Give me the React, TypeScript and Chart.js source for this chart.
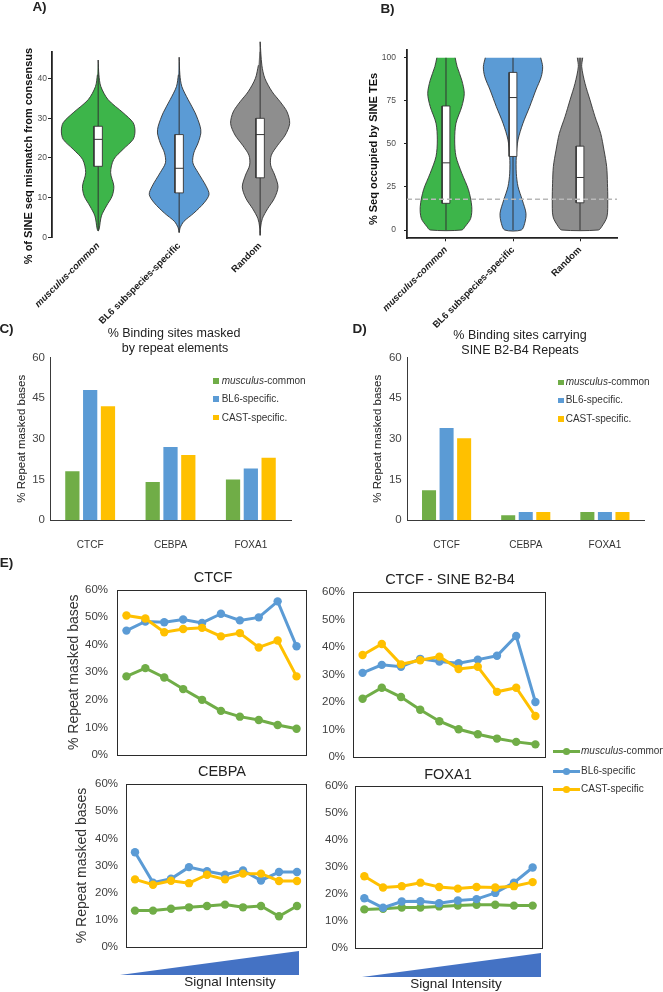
import React, { useEffect, useRef } from 'react';
import { Chart, registerables } from 'chart.js';

Chart.register(...registerables);

const FONT = '"Liberation Sans", Arial, Helvetica, sans-serif';
Chart.defaults.font.family = FONT;
Chart.defaults.color = '#333';

// ---------------- DATA ----------------
const VIOLIN_CATS = ['musculus-common', 'BL6 subspecies-specific', 'Random'];

// Panel A: % of SINE seq mismatch from consensus (value levels, relative density)
const A_MUS_Y = [44.7, 41, 38, 34.7, 31.4, 28.9, 26.8, 24.7, 22.2, 19.6, 16.3, 12.9, 10.4, 7.9, 5.4, 2.1, 1.6];
const A_MUS_D = [0, 0.02, 0.074, 0.274, 0.685, 0.96, 1.01, 0.96, 0.685, 0.425, 0.342, 0.43, 0.384, 0.227, 0.09, 0.027, 0];
const A_BL6_Y = [45.4, 41, 38, 34.7, 31.4, 28, 26.3, 23.8, 21.3, 18.8, 16.3, 12.9, 10.8, 8.7, 6.1, 4.0, 2.4, 1.2];
const A_BL6_D = [0, 0.02, 0.074, 0.247, 0.438, 0.575, 0.595, 0.52, 0.403, 0.375, 0.52, 0.74, 0.82, 0.685, 0.403, 0.129, 0.027, 0];
const A_RND_Y = [49.3, 43.4, 40.1, 36.7, 34.2, 31.6, 28.7, 25.8, 23.2, 20.7, 18.2, 15.7, 12.7, 9.8, 7.2, 4.7, 2.6, 0.5];
const A_RND_D = [0, 0.047, 0.129, 0.329, 0.548, 0.74, 0.81, 0.69, 0.48, 0.307, 0.288, 0.4, 0.49, 0.39, 0.205, 0.06, 0.014, 0];
const A_Q1 = [17.9, 11.2, 15.0];
const A_MED = [24.7, 17.4, 25.9];
const A_Q3 = [28.0, 25.9, 30.0];
const A_LO = [1.6, 1.2, 0.5];
const A_HI = [44.7, 45.4, 49.3];
const A_TICKS_MAX = 46.8;

// Panel B: % Seq occupied by SINE TEs
const B_MUS_Y = [100, 94.8, 87, 79.3, 71.6, 62, 52.3, 42.7, 33, 23.4, 13.7, 6.8, 1.9, 0];
const B_MUS_D = [0.305, 0.37, 0.523, 0.606, 0.523, 0.331, 0.288, 0.331, 0.523, 0.745, 0.854, 0.82, 0.63, 0.523];
const B_BL6_Y = [100, 94.8, 89, 81.3, 71.6, 62, 52.3, 42.7, 33, 25.2, 17.4, 9.7, 3.9, 0];
const B_BL6_D = [0.92, 0.983, 0.937, 0.76, 0.553, 0.331, 0.166, 0.109, 0.109, 0.166, 0.308, 0.43, 0.387, 0.275];
const B_RND_Y = [100, 94.8, 85.1, 75.5, 65.8, 56.1, 46.4, 36.8, 27.1, 17.4, 7.7, 1.9, 0];
const B_RND_D = [0.089, 0.056, 0.166, 0.331, 0.497, 0.685, 0.795, 0.884, 0.91, 0.92, 0.894, 0.718, 0.606];
const B_Q1 = [15.5, 42.7, 15.8];
const B_MED = [39, 76.9, 30.5];
const B_Q3 = [72, 91.5, 48.7];
const B_LO = [0, 0, 0];
const B_HI = [100, 100, 100];
const B_THRESHOLD = 17.8;

// Panels C, D
const TF_LABELS = ['CTCF', 'CEBPA', 'FOXA1'];
const BAR_SERIES = ['musculus-common', 'BL6-specific.', 'CAST-specific.'];
const C_MUS = [18, 14, 15];
const C_BL6 = [48, 27, 19];
const C_CAST = [42, 24, 23];
const D_MUS = [11, 1.8, 3];
const D_BL6 = [34, 3, 3];
const D_CAST = [30.2, 3, 3];

// Panel E
const LINE_SERIES = ['musculus-common', 'BL6-specific', 'CAST-specific'];
const BINS = ['1', '2', '3', '4', '5', '6', '7', '8', '9', '10'];
const E_CTCF_MUS = [28.5, 31.5, 28.1, 23.9, 20.0, 16.0, 13.9, 12.7, 10.9, 9.5];
const E_CTCF_BL6 = [45.1, 48.4, 48.1, 49.1, 47.9, 51.2, 48.8, 49.9, 55.7, 39.4];
const E_CTCF_CAST = [50.6, 49.5, 44.5, 45.7, 46.1, 43.0, 44.2, 39.0, 41.5, 28.5];
const E_SINE_MUS = [21.2, 25.2, 21.8, 17.2, 13.0, 10.1, 8.3, 6.7, 5.5, 4.6];
const E_SINE_BL6 = [30.6, 33.5, 32.8, 35.7, 34.7, 34.1, 35.4, 36.8, 44.0, 20.0];
const E_SINE_CAST = [37.1, 41.1, 33.7, 35.2, 36.5, 32.0, 32.8, 23.7, 25.2, 14.9];
const E_CEBPA_MUS = [13.4, 13.4, 14.1, 14.6, 15.1, 15.6, 14.6, 15.1, 11.3, 15.1];
const E_CEBPA_BL6 = [34.9, 23.7, 25.1, 29.4, 27.9, 26.6, 28.2, 24.5, 27.6, 27.6];
const E_CEBPA_CAST = [24.9, 22.9, 24.4, 23.5, 26.6, 24.9, 27.0, 27.0, 24.3, 24.3];
const E_FOXA1_MUS = [14.3, 14.5, 15.0, 15.0, 15.4, 15.7, 16.0, 16.0, 15.7, 15.7];
const E_FOXA1_BL6 = [18.4, 14.9, 17.2, 17.3, 16.6, 17.6, 18.1, 20.4, 24.2, 29.8];
const E_FOXA1_CAST = [26.6, 22.4, 22.9, 24.2, 22.6, 22.0, 22.6, 22.4, 22.9, 24.4];

// ---------------- STYLE ----------------
const SERIES_COLORS = ['#70AD47', '#5B9BD5', '#FFC000'];
const VIOLIN_COLORS = ['#3db54a', '#5b9bd5', '#8e8e8e'];
const OUTLINE = '#333333';

type Pad = { left: number; right: number; top: number; bottom: number };

const framePlugin = {
  id: 'frame',
  beforeDatasetsDraw(chart: any) {
    const { ctx, chartArea: a } = chart;
    ctx.save();
    ctx.strokeStyle = '#2b2b2b';
    ctx.lineWidth = 1;
    const l = Math.round(a.left) + 0.5, t = Math.round(a.top) + 0.5;
    const r = Math.round(a.right) + 0.5, b = Math.round(a.bottom) + 0.5;
    ctx.strokeRect(l, t, r - l, b - t);
    ctx.restore();
  },
};

function violinConfig(o: {
  profiles: { y: number[]; d: number[] }[];
  q1: number[]; med: number[]; q3: number[]; lo: number[]; hi: number[];
  yMin: number; yMax: number; step: number; xMin: number; xMax: number;
  boxHalf: number; threshold?: number; pad: Pad; yWidth: number; xHeight: number;
  tickLen: number; tickPad: number; xLine: boolean;
}) {
  const K = 0.45;
  const datasets: any[] = [];
  o.profiles.forEach((pr, i) => {
    const c = i + 1;
    const right = pr.y.map((v, j) => ({ x: c + pr.d[j] * K, y: v }));
    const left: { x: number; y: number }[] = [];
    for (let j = pr.y.length - 1; j >= 0; j--) if (pr.d[j] > 0) left.push({ x: c - pr.d[j] * K, y: pr.y[j] });
    datasets.push({
      data: [...right, ...left], showLine: true, fill: 'shape', backgroundColor: VIOLIN_COLORS[i],
      borderColor: OUTLINE, borderWidth: 0.9, pointRadius: 0, tension: 0.3, clip: false, order: 5,
    });
    datasets.push({
      data: [{ x: c, y: o.lo[i] }, { x: c, y: o.hi[i] }], showLine: true, fill: false,
      borderColor: OUTLINE, borderWidth: 1, pointRadius: 0, clip: false, order: 4,
    });
    const h = o.boxHalf;
    datasets.push({
      data: [
        { x: c - h, y: o.q1[i] }, { x: c + h, y: o.q1[i] }, { x: c + h, y: o.q3[i] },
        { x: c - h, y: o.q3[i] }, { x: c - h, y: o.q1[i] },
      ],
      showLine: true, fill: 'shape', backgroundColor: '#ffffff', borderColor: OUTLINE, borderWidth: 0.9,
      pointRadius: 0, tension: 0, order: 3,
    });
    datasets.push({
      data: [{ x: c - h, y: o.med[i] }, { x: c + h, y: o.med[i] }], showLine: true, fill: false,
      borderColor: OUTLINE, borderWidth: 1, pointRadius: 0, order: 2,
    });
  });
  if (o.threshold !== undefined) {
    datasets.push({
      data: [{ x: o.xMin, y: o.threshold }, { x: o.xMax, y: o.threshold }], showLine: true, fill: false,
      borderColor: '#b8b8b8', borderWidth: 1.5, borderDash: [5, 3], pointRadius: 0, order: 1,
    });
  }
  return {
    type: 'scatter',
    data: { datasets },
    options: {
      animation: false, responsive: false, events: [],
      layout: { padding: o.pad },
      plugins: { legend: { display: false }, tooltip: { enabled: false } },
      scales: {
        x: {
          type: 'linear', min: o.xMin, max: o.xMax,
          afterBuildTicks: (s: any) => { s.ticks = VIOLIN_CATS.map((_, i) => ({ value: i + 1 })); },
          afterFit: (s: any) => { s.height = o.xHeight; },
          ticks: {
            autoSkip: false, minRotation: 45, maxRotation: 45, padding: 3, color: '#1a1a1a',
            callback: (v: any) => VIOLIN_CATS[Math.round(Number(v)) - 1] ?? '',
            font: (ctx: any) => ({ size: 9.5, weight: 'bold', style: ctx.index === 0 ? 'italic' : 'normal' }),
          },
          grid: o.xLine
            ? { display: true, drawOnChartArea: false, drawTicks: true, tickLength: 3, color: '#222', lineWidth: 1 }
            : { display: false, drawTicks: false },
          border: { display: o.xLine, color: '#222', width: 1.8 },
        },
        y: {
          type: 'linear', min: o.yMin, max: o.yMax,
          afterFit: (s: any) => { s.width = o.yWidth; },
          ticks: { stepSize: o.step, includeBounds: false, font: { size: 8.5 }, color: '#4d4d4d', padding: o.tickPad },
          grid: { display: true, drawOnChartArea: false, drawTicks: true, tickLength: o.tickLen, color: '#222', lineWidth: 1 },
          border: { display: true, color: '#222', width: 1.8 },
        },
      },
    },
  };
}

function barConfig(values: number[][], o: { pad: Pad; yWidth: number; tickPad: number }) {
  return {
    type: 'bar',
    data: {
      labels: TF_LABELS,
      datasets: values.map((v, i) => ({
        label: BAR_SERIES[i], data: v, backgroundColor: SERIES_COLORS[i],
        barPercentage: 0.8, categoryPercentage: 0.665,
      })),
    },
    options: {
      animation: false, responsive: false, events: [],
      layout: { padding: o.pad },
      plugins: { legend: { display: false }, tooltip: { enabled: false } },
      scales: {
        x: {
          afterFit: (s: any) => { s.height = 40; },
          grid: { display: false, drawTicks: false },
          border: { display: true, color: '#3a3a3a', width: 1 },
          ticks: { font: { size: 10 }, color: '#333', padding: 19 },
        },
        y: {
          min: 0, max: 60,
          afterFit: (s: any) => { s.width = o.yWidth; },
          ticks: { stepSize: 15, font: { size: 11.5 }, color: '#444', padding: o.tickPad },
          grid: { display: false, drawTicks: false },
          border: { display: true, color: '#3a3a3a', width: 1 },
          title: { display: true, text: '% Repeat masked bases', font: { size: 11.5 }, color: '#222', padding: 0 },
        },
      },
    },
  };
}

function lineConfig(values: number[][], o: { pad: Pad; yWidth: number; tickPad: number; title: boolean }) {
  return {
    type: 'line',
    data: {
      labels: BINS,
      datasets: values.map((v, i) => ({
        label: LINE_SERIES[i], data: v, borderColor: SERIES_COLORS[i], backgroundColor: SERIES_COLORS[i],
        pointBackgroundColor: SERIES_COLORS[i], pointBorderWidth: 0, pointRadius: 4.2, borderWidth: 3,
        tension: 0, order: 3 - i, clip: false,
      })),
    },
    options: {
      animation: false, responsive: false, events: [],
      layout: { padding: o.pad },
      plugins: { legend: { display: false }, tooltip: { enabled: false } },
      scales: {
        x: { display: false, offset: true },
        y: {
          min: 0, max: 60,
          afterFit: (s: any) => { s.width = o.yWidth; },
          ticks: { stepSize: 10, callback: (v: any) => v + '%', font: { size: 11.5 }, color: '#404040', padding: o.tickPad },
          grid: { display: false, drawTicks: false },
          border: { display: false },
          title: o.title
            ? { display: true, text: '% Repeat masked bases', font: { size: 14 }, color: '#333', padding: 0 }
            : { display: false },
        },
      },
    },
    plugins: [framePlugin],
  };
}

function ChartCanvas({ x, y, w, h, config }: { x: number; y: number; w: number; h: number; config: () => any }) {
  const ref = useRef<HTMLCanvasElement | null>(null);
  useEffect(() => {
    if (!ref.current) return;
    const chart = new Chart(ref.current, config());
    return () => chart.destroy();
  }, []);
  return <canvas ref={ref} width={w} height={h} style={{ position: 'absolute', left: x, top: y, width: w, height: h }} />;
}

function Txt({ x, y, size, bold, rotate, color = '#222', center = true, children }: any) {
  return (
    <div
      style={{
        position: 'absolute', left: x, top: y, fontSize: size, fontWeight: bold ? 'bold' : 'normal',
        lineHeight: 1, whiteSpace: 'nowrap', color, fontFamily: FONT,
        transform: `translate(${center ? '-50%' : '0'},-50%)${rotate ? ` rotate(${rotate}deg)` : ''}`,
      }}
    >
      {children}
    </div>
  );
}

function SeriesLabel({ text }: { text: string }) {
  const m = text.match(/^(musculus)(.*)$/);
  return m ? (<><i>{m[1]}</i>{m[2]}</>) : <>{text}</>;
}

export default function App() {
  useEffect(() => {
    document.body.style.margin = '0';
  }, []);

  const barLegendRowsC = [381, 399, 417.7];
  const barLegendRowsD = [382.3, 400.3, 419];
  const lineLegendRows = [751, 771, 789];

  return (
    <div style={{ position: 'absolute', left: 0, top: 0, width: 663, height: 992, overflow: 'hidden', background: '#fff', fontFamily: FONT }}>
      {/* Panel A */}
      <ChartCanvas x={0} y={0} w={320} h={335} config={() => violinConfig({
        profiles: [{ y: A_MUS_Y, d: A_MUS_D }, { y: A_BL6_Y, d: A_BL6_D }, { y: A_RND_Y, d: A_RND_D }],
        q1: A_Q1, med: A_MED, q3: A_Q3, lo: A_LO, hi: A_HI,
        yMin: 0, yMax: A_TICKS_MAX, step: 10, xMin: 0.43, xMax: 3.57, boxHalf: 0.052,
        pad: { left: 0, right: 13.7, top: 51.7, bottom: 0 }, yWidth: 52, xHeight: 97.7,
        tickLen: 4, tickPad: 1, xLine: false,
      })} />
      {/* Panel B */}
      <ChartCanvas x={330} y={0} w={333} h={335} config={() => violinConfig({
        profiles: [{ y: B_MUS_Y, d: B_MUS_D }, { y: B_BL6_Y, d: B_BL6_D }, { y: B_RND_Y, d: B_RND_D }],
        q1: B_Q1, med: B_MED, q3: B_Q3, lo: B_LO, hi: B_HI,
        yMin: -4.8, yMax: 104.5, step: 25, xMin: 0.418, xMax: 3.552, boxHalf: 0.058, threshold: B_THRESHOLD,
        pad: { left: 0, right: 46, top: 50, bottom: 0 }, yWidth: 77, xHeight: 96.7,
        tickLen: 3, tickPad: 8, xLine: true,
      })} />
      {/* Panel C */}
      <ChartCanvas x={0} y={330} w={330} h={230} config={() => barConfig([C_MUS, C_BL6, C_CAST], {
        pad: { left: 15.1, right: 39, top: 27.5, bottom: 0 }, yWidth: 34.9, tickPad: 5,
      })} />
      {/* Panel D */}
      <ChartCanvas x={330} y={330} w={333} h={230} config={() => barConfig([D_MUS, D_BL6, D_CAST], {
        pad: { left: 41.1, right: 18.5, top: 27.5, bottom: 0 }, yWidth: 35.9, tickPad: 5.3,
      })} />
      {/* Panel E */}
      <ChartCanvas x={0} y={565} w={320} h={210} config={() => lineConfig([E_CTCF_MUS, E_CTCF_BL6, E_CTCF_CAST], {
        pad: { left: 65.6, right: 14, top: 24.5, bottom: 20 }, yWidth: 51.4, tickPad: 9, title: true,
      })} />
      <ChartCanvas x={320} y={565} w={240} h={210} config={() => lineConfig([E_SINE_MUS, E_SINE_BL6, E_SINE_CAST], {
        pad: { left: 0, right: 15, top: 27, bottom: 18 }, yWidth: 33, tickPad: 8, title: false,
      })} />
      <ChartCanvas x={0} y={760} w={320} h={210} config={() => lineConfig([E_CEBPA_MUS, E_CEBPA_BL6, E_CEBPA_CAST], {
        pad: { left: 73.6, right: 14, top: 24, bottom: 23 }, yWidth: 52.4, tickPad: 8, title: true,
      })} />
      <ChartCanvas x={320} y={760} w={240} h={210} config={() => lineConfig([E_FOXA1_MUS, E_FOXA1_BL6, E_FOXA1_CAST], {
        pad: { left: 0, right: 18, top: 26, bottom: 22 }, yWidth: 35, tickPad: 7, title: false,
      })} />

      {/* Signal intensity wedges */}
      <svg width={663} height={992} style={{ position: 'absolute', left: 0, top: 0, pointerEvents: 'none' }}>
        <polygon points="120,975 299,951 299,975" fill="#4472c4" />
        <polygon points="362,977 541,953 541,977" fill="#4472c4" />
      </svg>

      {/* Panel letters */}
      <Txt x={39.5} y={6.5} size={13.5} bold>A)</Txt>
      <Txt x={387.5} y={9} size={13.5} bold>B)</Txt>
      <Txt x={6.5} y={328.5} size={13.5} bold>C)</Txt>
      <Txt x={359.7} y={329} size={13.5} bold>D)</Txt>
      <Txt x={6.5} y={563} size={13.5} bold>E)</Txt>

      {/* Violin axis titles */}
      <Txt x={27.5} y={155.8} size={11} bold rotate={-90} color="#111">% of SINE seq mismatch from consensus</Txt>
      <Txt x={373} y={149} size={11} bold rotate={-90} color="#111">% Seq occupied by SINE TEs</Txt>

      {/* Bar titles */}
      <Txt x={174} y={333} size={12.5}>% Binding sites masked</Txt>
      <Txt x={175} y={347.5} size={12.5}>by repeat elements</Txt>
      <Txt x={520} y={335} size={12.5}>% Binding sites carrying</Txt>
      <Txt x={520} y={349.5} size={12.5}>SINE B2-B4 Repeats</Txt>

      {/* Bar legends */}
      {BAR_SERIES.map((s, i) => (
        <React.Fragment key={'c' + s}>
          <div style={{ position: 'absolute', left: 213.3, top: barLegendRowsC[i] - 2.75, width: 5.5, height: 5.5, background: SERIES_COLORS[i] }} />
          <Txt x={221.7} y={barLegendRowsC[i]} size={10} center={false} color="#333"><SeriesLabel text={s} /></Txt>
          <div style={{ position: 'absolute', left: 558.3, top: barLegendRowsD[i] - 2.75, width: 5.5, height: 5.5, background: SERIES_COLORS[i] }} />
          <Txt x={565.7} y={barLegendRowsD[i]} size={10} center={false} color="#333"><SeriesLabel text={s} /></Txt>
        </React.Fragment>
      ))}

      {/* Line chart titles */}
      <Txt x={213} y={577} size={14.5}>CTCF</Txt>
      <Txt x={450} y={578.5} size={14.5}>CTCF - SINE B2-B4</Txt>
      <Txt x={222} y={770.5} size={14.5}>CEBPA</Txt>
      <Txt x={448} y={773.5} size={14.5}>FOXA1</Txt>

      {/* Line legend */}
      {LINE_SERIES.map((s, i) => (
        <div key={'e' + s} style={{ position: 'absolute', left: 553, top: lineLegendRows[i], transform: 'translateY(-50%)', display: 'flex', alignItems: 'center', whiteSpace: 'nowrap', fontSize: 10, lineHeight: 1, color: '#333', fontFamily: FONT }}>
          <svg width={27} height={9} style={{ display: 'block' }}>
            <line x1={0} y1={4.5} x2={27} y2={4.5} stroke={SERIES_COLORS[i]} strokeWidth={3} />
            <circle cx={13.5} cy={4.5} r={3.6} fill={SERIES_COLORS[i]} />
          </svg>
          <span style={{ marginLeft: 1 }}><SeriesLabel text={s} /></span>
        </div>
      ))}

      {/* Signal Intensity labels */}
      <Txt x={230} y={982} size={13.5}>Signal Intensity</Txt>
      <Txt x={456} y={984} size={13.5}>Signal Intensity</Txt>
    </div>
  );
}
